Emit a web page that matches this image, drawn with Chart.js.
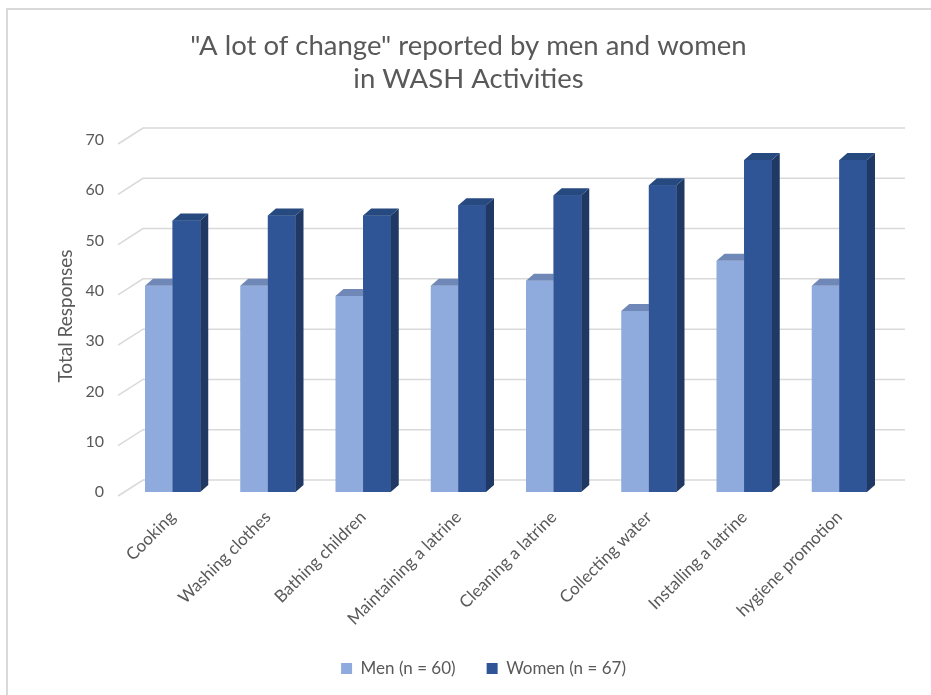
<!DOCTYPE html>
<html>
<head>
<meta charset="utf-8">
<script src="https://cdn.jsdelivr.net/npm/chart.js@4.4.0/dist/chart.umd.min.js"></script>
<style>
  html, body { margin: 0; padding: 0; background: #fff; }
  #wrap { width: 931px; height: 695px; }
</style>
</head>
<body>
<div id="wrap"><canvas id="washChart" width="931" height="695"></canvas></div>
<script>
// Data
const activities = ['Cooking', 'Washing clothes', 'Bathing children', 'Maintaining a latrine',
    'Cleaning a latrine', 'Collecting water', 'Installing a latrine', 'hygiene promotion'];
const menResponses = [41, 41, 39, 41, 42, 36, 46, 41];
const womenResponses = [54, 55, 55, 57, 59, 61, 66, 66];
const seriesLabels = ['Men (n = 60)', 'Women (n = 67)'];
const yTicks = [0, 10, 20, 30, 40, 50, 60, 70];

const textColor = '#595959';
const fontFamily = 'Lato, "Open Sans", sans-serif';

// Fake 3D: bar depth and the back wall offsets
const barDepth = { dx: 8, dy: 7 };
const faceColors = [
    { top: '#7088b8', side: '#6a82b0' },
    { top: '#26497f', side: '#1f3864' }
];

// Frame + white background, legend nudged right
const framePlugin = {
    id: 'frame',
    afterLayout(chart) {
        chart.legend.left += 15;
        chart.legend.right += 15;
    },
    beforeDraw(chart) {
        const ctx = chart.ctx;
        ctx.save();
        ctx.fillStyle = '#fff';
        ctx.fillRect(0, 0, chart.width, chart.height);
        ctx.strokeStyle = '#d9d9d9';
        ctx.lineWidth = 2;
        ctx.beginPath();
        ctx.moveTo(7, chart.height);
        ctx.lineTo(7, 9);
        ctx.lineTo(chart.width, 9);
        ctx.stroke();
        ctx.restore();
    }
};

// Perspective gridlines: short diagonal from the front, then along the back wall
const wallGridPlugin = {
    id: 'wallGrid',
    beforeDatasetsDraw(chart) {
        const { ctx, chartArea, scales } = chart;
        ctx.save();
        ctx.strokeStyle = '#d9d9d9';
        ctx.lineWidth = 1.5;
        yTicks.forEach(v => {
            const y = scales.y.getPixelForValue(v);
            ctx.beginPath();
            ctx.moveTo(chartArea.left - 7, y + 4);
            ctx.lineTo(chartArea.left + 18, y - 12);
            ctx.lineTo(chartArea.right + 18, y - 12);
            ctx.stroke();
        });
        ctx.restore();
    }
};

// Side and top faces of each bar
const barFacesPlugin = {
    id: 'barFaces',
    afterDatasetsDraw(chart) {
        const ctx = chart.ctx;
        const { dx, dy } = barDepth;
        chart.data.datasets.forEach((ds, di) => {
            const meta = chart.getDatasetMeta(di);
            meta.data.forEach(bar => {
                // redraw front so it sits over the previous series' top face
                if (di > 0) bar.draw(ctx);
                const p = bar.getProps(['x', 'y', 'base', 'width'], true);
                const l = p.x - p.width / 2;
                const r = p.x + p.width / 2;
                ctx.save();
                ctx.fillStyle = faceColors[di].side;
                ctx.beginPath();
                ctx.moveTo(r, p.y);
                ctx.lineTo(r + dx, p.y - dy);
                ctx.lineTo(r + dx, p.base - dy);
                ctx.lineTo(r, p.base);
                ctx.closePath();
                ctx.fill();
                ctx.fillStyle = faceColors[di].top;
                ctx.beginPath();
                ctx.moveTo(l, p.y);
                ctx.lineTo(l + dx, p.y - dy);
                ctx.lineTo(r + dx, p.y - dy);
                ctx.lineTo(r, p.y);
                ctx.closePath();
                ctx.fill();
                ctx.restore();
            });
        });
    }
};

const ctx = document.getElementById('washChart');
const washChart = new Chart(ctx, {
    type: 'bar',
    data: {
        labels: activities,
        datasets: [
            { label: seriesLabels[0], data: menResponses, backgroundColor: '#8faadc', borderWidth: 0 },
            { label: seriesLabels[1], data: womenResponses, backgroundColor: '#2f5597', borderWidth: 0 }
        ]
    },
    options: {
        responsive: false,
        animation: false,
        devicePixelRatio: 1,
        layout: { padding: { left: 50, right: 44, top: 0, bottom: 8 } },
        datasets: { bar: { categoryPercentage: 0.58, barPercentage: 1 } },
        plugins: {
            title: {
                display: true,
                text: ['"A lot of change" reported by men and women', 'in WASH Activities'],
                color: textColor,
                font: { family: fontFamily, size: 27.5, weight: 'normal', lineHeight: 1.2 },
                padding: { top: 30, bottom: 44 }
            },
            legend: {
                position: 'bottom',
                labels: {
                    color: textColor,
                    font: { family: fontFamily, size: 17 },
                    boxWidth: 11,
                    boxHeight: 11,
                    padding: 31
                }
            },
            tooltip: { enabled: false }
        },
        scales: {
            x: {
                grid: { display: false, drawTicks: false },
                border: { display: false },
                ticks: {
                    color: textColor,
                    font: { family: fontFamily, size: 17 },
                    minRotation: 45,
                    maxRotation: 45,
                    padding: 15
                },
                afterFit: s => { s.height = 137; }
            },
            y: {
                min: 0,
                max: 70,
                grid: { display: false, drawTicks: false },
                border: { display: false },
                ticks: {
                    stepSize: 10,
                    color: textColor,
                    font: { family: fontFamily, size: 16 },
                    padding: 21
                },
                title: {
                    display: true,
                    text: 'Total Responses',
                    color: textColor,
                    font: { family: fontFamily, size: 19 },
                    padding: { top: 4, bottom: 0 }
                },
                afterFit: s => { s.width = 75; }
            }
        }
    },
    plugins: [framePlugin, wallGridPlugin, barFacesPlugin]
});
</script>
</body>
</html>
